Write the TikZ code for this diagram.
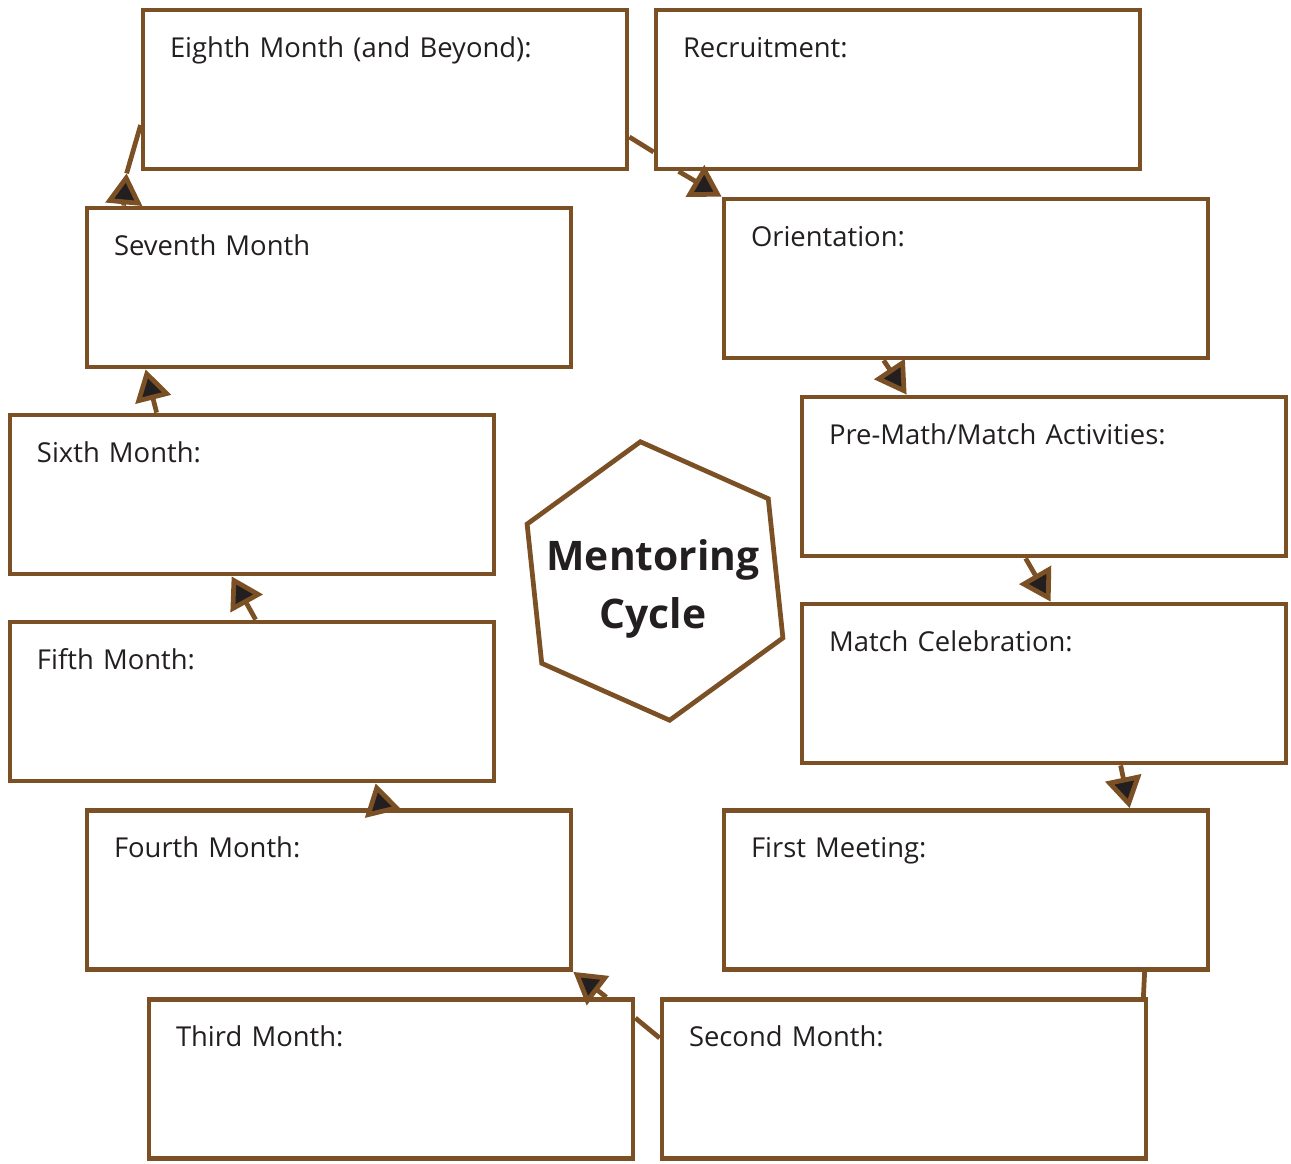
\documentclass[tikz,border=0pt]{standalone}
\usepackage{fontspec}
\setmainfont{Open Sans}
\usetikzlibrary{arrows.meta}
\definecolor{cyclebrown}{RGB}{122,80,36}
\definecolor{cycleink}{RGB}{35,31,32}

\begin{document}
\begin{tikzpicture}[font = \fontsize{7.8}{10}\selectfont, line width = 1.35pt,
  box/.style = {draw = cyclebrown, text = cycleink, align = left, text width = 4.30cm,
    inner xsep = 0.27cm, inner ysep = 0pt, text height = 0.47cm, text depth = 1.12cm},
  link/.style = {draw = cyclebrown},
  arrow/.style = {draw = cyclebrown, -{Triangle[length = 3.1mm, width = 3.6mm, fill = cycleink]}}]
\useasboundingbox (0,0) rectangle (12.91,-11.63);
\node [box] (eighth) at (3.85,-0.895) {Eighth Month (and Beyond):};
\node [box] (recruit) at (8.98,-0.895) {Recruitment:};
\node [box] (orient) at (9.66,-2.785) {Orientation:};
\node [box] (prematch) at (10.44,-4.765) {Pre-Math/Match Activities:};
\node [box] (celebr) at (10.44,-6.835) {Match Celebration:};
\node [box] (first) at (9.66,-8.90) {First Meeting:};
\node [box] (second) at (9.04,-10.79) {Second Month:};
\node [box] (third) at (3.91,-10.79) {Third Month:};
\node [box] (fourth) at (3.29,-8.90) {Fourth Month:};
\node [box] (fifth) at (2.52,-7.015) {Fifth Month:};
\node [box] (sixth) at (2.52,-4.945) {Sixth Month:};
\node [box] (seventh) at (3.29,-2.875) {Seventh Month};
\node [font = \fontsize{11.6}{16.4}\selectfont\bfseries, align = center, text = cycleink] (hub) at (6.53,-5.89) {Mentoring\\Cycle};
\draw [cyclebrown, shift = {(6.55,-5.81)}] (96:1.4) -- (156:1.4) -- (216:1.4) -- (276:1.4) -- (336:1.4) -- (36:1.4) -- cycle;
\coordinate (bend) at ([xshift = -1.4mm, yshift = -0.2mm]eighth.south west);
\draw [link] ([yshift = -4.75mm]eighth.east) -- ([yshift = -6.25mm]recruit.west);
\draw [arrow] ([xshift = 2.5mm]recruit.south west) -- (orient.north west);
\draw [arrow] ([xshift = 16.2mm]orient.south west) -- ([xshift = 10.7mm]prematch.north west);
\draw [arrow] ([xshift = 22.6mm]prematch.south west) -- ([xshift = 25.1mm]celebr.north west);
\draw [arrow] ([xshift = 32.1mm]celebr.south west) -- ([xshift = 40.8mm]first.north west);
\draw [link] ([xshift = 42.3mm]first.south west) -- ([xshift = -0.5mm]second.north east);
\draw [link] ([yshift = 4.1mm]second.west) -- ([yshift = 6.1mm]third.east);
\draw [arrow] ([xshift = -2.9mm]third.north east) -- (fourth.south east);
\draw [arrow] ([xshift = 29.7mm]fourth.north west) -- ([xshift = 36.8mm]fifth.south west);
\draw [arrow] ([xshift = 24.8mm]fifth.north west) -- ([xshift = 22.4mm]sixth.south west);
\draw [arrow] ([xshift = 14.9mm]sixth.north west) -- ([xshift = 6.1mm]seventh.south west);
\draw [arrow] ([xshift = 3.9mm]seventh.north west) -- (bend);
\draw [link] (bend) -- ([yshift = -3.55mm]eighth.west);
\end{tikzpicture}
\end{document}
